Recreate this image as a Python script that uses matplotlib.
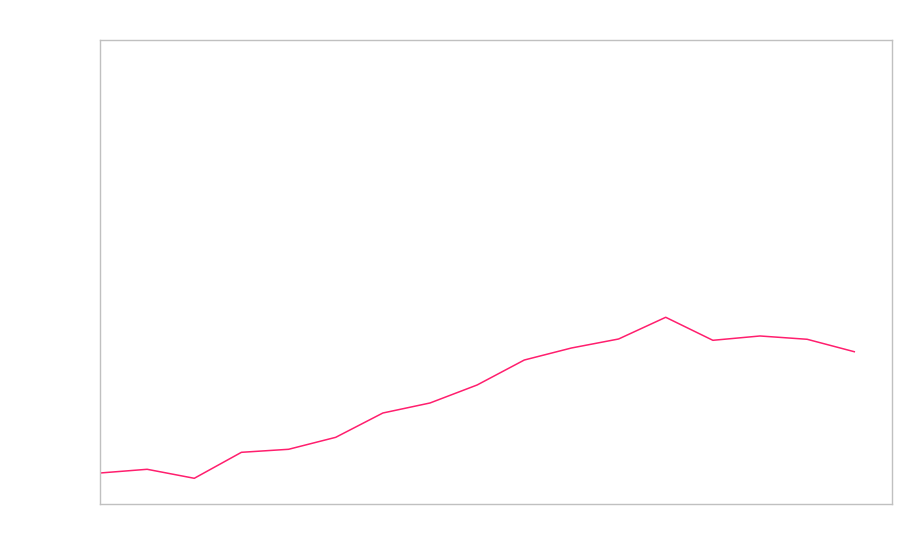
import matplotlib
matplotlib.use("Agg")
import matplotlib.pyplot as plt

x_index = list(range(17))
values = [6.68, 7.48, 5.54, 11.14, 11.79, 14.37, 19.61, 21.77, 25.65,
          31.03, 33.62, 35.56, 40.24, 35.28, 36.21, 35.50, 32.82]

fig = plt.figure(figsize=(9, 5.6), dpi=100)
ax = fig.add_axes([100/900, 56/560, 792/900, 464/560])
ax.plot(x_index, values, color="#ff1f6e", linewidth=1.1)
ax.set_xlim(0, 16.8)
ax.set_ylim(0, 100)
ax.set_xticks([])
ax.set_yticks([])
for s in ax.spines.values():
    s.set_color("#c0c0c0")
    s.set_linewidth(1)
fig.savefig("out.png", dpi=100)
